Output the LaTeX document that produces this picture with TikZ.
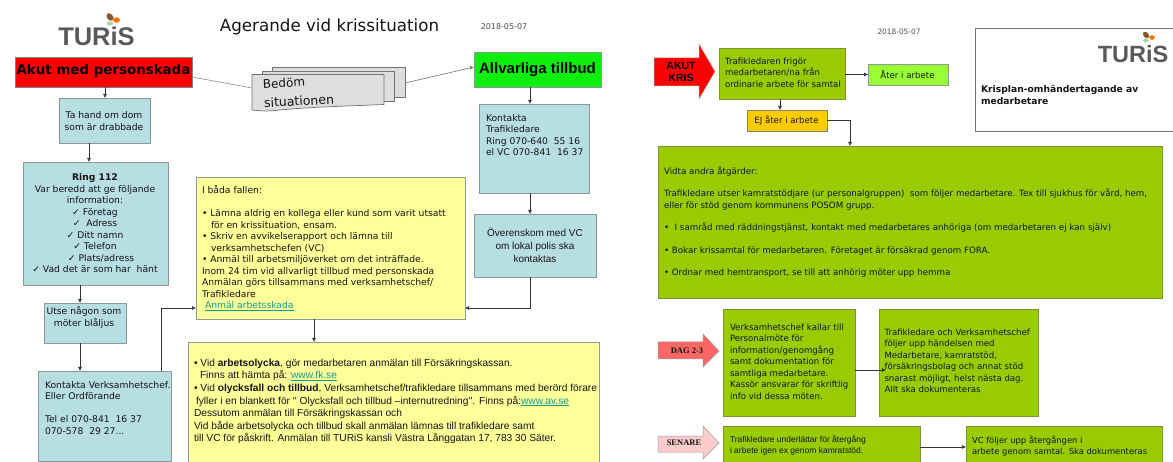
\documentclass[tikz,border=0pt]{standalone}
\usepackage{fontspec}
\setmainfont{DejaVu Sans}
\newfontfamily\arialf{Liberation Sans}
\newfontfamily\timesf{Liberation Serif}
\usetikzlibrary{arrows.meta}
\definecolor{blueb}{HTML}{B7DEE3}
\definecolor{yel}{HTML}{FFFF99}
\definecolor{grn}{HTML}{99CC00}
\definecolor{edgeb}{HTML}{8A9A9C}
\definecolor{edgeg}{HTML}{7E9434}
\definecolor{logog}{HTML}{58595B}
\definecolor{linkc}{HTML}{0A9C96}
\definecolor{txt}{HTML}{141414}
\definecolor{aterc}{HTML}{99FF33}
\definecolor{ejc}{HTML}{FFCC00}
\definecolor{allvc}{HTML}{0CEE0C}
\newcommand{\bx}[6]{%
  \pgfmathsetmacro\bw{#4-#2}\pgfmathsetmacro\bh{#5-#3}%
  \pgfmathsetmacro\cx{(#4+#2)/2}\pgfmathsetmacro\cy{(#5+#3)/2}%
  \node[#6,minimum width=\bw pt,minimum height=\bh pt] (#1) at (\cx,\cy) {};}
\newcommand{\lnk}[1]{\textcolor{linkc}{\underline{#1}}}
\tikzset{
  x=1pt,y=-1pt,
  boxbase/.style={draw,inner sep=0pt,outer sep=0pt,line width=.8pt},
  bluebox/.style={boxbase,fill=blueb,draw=edgeb},
  yelbox/.style={boxbase,fill=yel,draw=edgeb},
  grnbox/.style={boxbase,fill=grn,draw=edgeg},
  conn/.style={draw=black!80,line width=.55pt,-{Latex[length=4pt,width=4pt]}},
  plain/.style={draw=black!80,line width=.55pt},
  ttxt/.style={inner sep=0pt,outer sep=0pt,text=txt},
  lft/.style={ttxt,anchor=north west,align=left},
  ctr/.style={ttxt,align=center},
  vsm/.style={font=\fontsize{9.2}{11.5}\selectfont},
  vsr/.style={font=\fontsize{8.6}{11.5}\selectfont},
  stackbox/.style={draw=black!55,fill=black!13,line width=.7pt},
  logotxt/.style={ttxt,text=logog,font=\arialf\bfseries\fontsize{25.5}{26}\selectfont},
  logotxs/.style={ttxt,text=logog,font=\arialf\bfseries\fontsize{23.5}{24}\selectfont},
}
\begin{document}
\begin{tikzpicture}
\useasboundingbox (0,0) rectangle (1173,462);
% ---------- left logo and title
\node[logotxt] (logoL) at (96.5,36) {TURiS};
\fill[brown!70!black,rotate around={40:(110,17)}] (110,17) ellipse (3 and 4.2);
\fill[orange!90!red] (116.5,20) ellipse (3.4 and 2.8);
\fill[green!30!gray!50] (110,23.5) ellipse (3.4 and 2);
\node[ttxt,font=\fontsize{16.7}{18}\selectfont] (title) at (329.5,27) {Agerande vid krissituation};
\node[ttxt,font=\fontsize{8}{8}\selectfont,text=black!70] (dateL) at (504,27) {2018-05-07};
% ---------- left boxes
\bx{akut}{15}{57}{192}{87}{boxbase,fill=red,draw=black!50}
\node[ttxt,text=black,font=\bfseries\fontsize{13.4}{14}\selectfont] (akutT) at (103.5,71) {Akut med personskada};
\bx{ta}{59}{98}{150}{143}{bluebox}
\node[ctr,vsm] (taT) at (104,121) {Ta hand om dom\\som är drabbade};
\bx{ring}{23.5}{162}{168}{285}{bluebox}
\node[ctr,vsm] (ringT) at (95,223.5) {{\bfseries Ring 112}\\Var beredd att ge följande\\information:\\✓ Företag\\✓\ \ Adress\hspace*{18pt}\\✓ Ditt namn\hspace*{6pt}\\✓ Telefon\\\hspace*{12pt}✓ Plats/adress\\✓ Vad det är som har\ \ hänt};
\bx{utse}{44}{303}{126}{343}{bluebox}
\node[ctr,vsm] (utseT) at (84,317.5) {Utse någon som\\möter blåljus};
\bx{kvc}{38.5}{371}{171.5}{461}{bluebox}
\node[lft,vsm] (kvcT) at (45,381.5) {Kontakta Verksamhetschef.\\Eller Ordförande\\[11.5pt]Tel el 070-841\ \ 16 37\\070-578\ \ 29 27...};
% stack
\draw[stackbox] (272,67) rectangle (405,97);
\draw[stackbox] (262,71) rectangle (394,101);
\coordinate (stk) at (252,88);
\coordinate (stkb) at (405,83);
\draw[stackbox] (252,74.5) -- (384,74.5) -- (384,104.5) .. controls (350,106) and (310,107) .. (280,110) .. controls (268,111.5) and (260,111) .. (252,110) -- cycle;
\node[ttxt,rotate=3,font=\fontsize{12}{12}\selectfont] (bed) at (284,83) {Bedöm};
\node[ttxt,rotate=3,font=\fontsize{12.5}{12}\selectfont] (sit) at (299,101) {situationen};
\bx{allv}{474}{52}{601}{87}{boxbase,fill=allvc,draw=edgeb}
\node[ttxt,text=black,font=\arialf\bfseries\fontsize{15}{16}\selectfont] (allvT) at (537.5,70) {Allvarliga tillbud};
\bx{ktr}{479}{104}{589}{193}{bluebox}
\node[lft,vsm] (ktrT) at (486,114.5) {Kontakta\\Trafikledare\\Ring 070-640\ \ 55 16\\el VC 070-841\ \ 16 37};
\bx{over}{474}{214}{596}{277}{bluebox}
\node[ctr,font=\arialf\fontsize{10}{13}\selectfont] (overT) at (535,245) {Överenskom med VC\\om lokal polis ska\\kontaktas};
\bx{y1}{196}{177}{465}{319}{yelbox}
\node[lft,vsm] (y1T) at (202,185.5) {I båda fallen:\\[11.5pt]• Lämna aldrig en kollega eller kund som varit utsatt\\\hspace*{9pt}för en krissituation, ensam.\\• Skriv en avvikelserapport och lämna till\\\hspace*{9pt}verksamhetschefen (VC)\\• Anmäl till arbetsmiljöverket om det inträffade.\\Inom 24 tim vid allvarligt tillbud med personskada\\Anmälan görs tillsammans med verksamhetschef/\\Trafikledare\\\hspace*{3pt}\lnk{Anmäl arbetsskada}};
\bx{y2}{188}{342}{599}{470}{yelbox}
\node[lft,font=\arialf\fontsize{10.2}{12.6}\selectfont] (y2T) at (194,359) {• Vid \textbf{arbetsolycka}, gör medarbetaren anmälan till Försäkringskassan.\\\hspace*{6pt}Finns att hämta på: \lnk{www.fk.se}\\• Vid \textbf{olycksfall och tillbud}, Verksamhetschef/trafikledare tillsammans med berörd förare\\\hspace*{2pt}fyller i en blankett för '' Olycksfall och tillbud –internutredning''. Finns på:\lnk{www.av.se}\\Dessutom anmälan till Försäkringskassan och\\Vid både arbetsolycka och tillbud skall anmälan lämnas till trafikledare samt\\till VC för påskrift. Anmälan till TURiS kansli Västra Långgatan 17, 783 30 Säter.};
% left connectors
\draw[conn] (105,87) -- (105,98);
\draw[conn] (89,143) -- (89,162);
\draw[conn] (80,285) -- (80,303);
\draw[conn] (80,343) -- (80,371);
\draw[conn] (161,371) |- (y1.west |- 0,308);
\draw[conn] (530,277) |- (y1.east |- 0,308);
\draw[conn] (314,319) -- (314,342);
\draw[conn] (530,87) -- (530,104);
\draw[conn] (530,193) -- (530,214);
\draw[draw=black!40,line width=.7pt] (stk) -- (192,77);
\draw[conn,draw=black!50,line width=.7pt] (stkb) -- (474,67);
% ---------- right page
\node[ttxt,font=\fontsize{7.4}{8}\selectfont,text=black!70] (dateR) at (899,32) {2018-05-07};
\draw[draw=black!55,line width=.6pt,fill=white] (1175,28) -- (975.5,28) -- (975.5,131) -- (1175,131);
\node[logotxs] (logoR) at (1133,54.5) {TURiS};
\fill[brown!70!black,rotate around={40:(1146,35)}] (1146,35) ellipse (2.6 and 3.6);
\fill[orange!90!red] (1152,37.5) ellipse (2.8 and 2.4);
\fill[green!30!gray!50] (1146,40.5) ellipse (2.8 and 1.7);
\node[lft,font=\bfseries\fontsize{9.2}{12}\selectfont] (krisT) at (981,85) {Krisplan-omhändertagande av\\medarbetare};
% arrows with labels
\draw[fill=red,draw=black!35,line width=.5pt] (654,58) -- (699,58) -- (699,44) -- (715,71.5) -- (699,99) -- (699,86) -- (654,86) -- cycle;
\node[ctr,text=black,font=\arialf\bfseries\fontsize{10.5}{12}\selectfont] (akris) at (681,72) {AKUT\\KRIS};
\draw[fill=red!60,draw=black!40,line width=.5pt] (658,342) -- (703,342) -- (703,334) -- (719,351) -- (703,367) -- (703,359) -- (658,359) -- cycle;
\node[ttxt,font=\timesf\bfseries\fontsize{8.5}{10}\selectfont] (dag) at (687,351) {DAG 2-3};
\draw[fill=red!20,draw=black!40,line width=.5pt] (658,436) -- (703,436) -- (703,426) -- (719,443) -- (703,459) -- (703,452) -- (658,452) -- cycle;
\node[ttxt,font=\timesf\bfseries\fontsize{8.5}{10}\selectfont] (sen) at (684,443) {SENARE};
\bx{frig}{719}{48}{845}{99}{grnbox}
\node[lft,vsr] (frigT) at (725,57.5) {Trafikledaren frigör\\medarbetaren/na från\\ordinarie arbete för samtal};
\bx{ater}{868}{64}{948}{85}{boxbase,fill=aterc,draw=edgeb}
\node[ttxt,vsr] (aterT) at (907.5,74.5) {Åter i arbete};
\bx{ej}{747}{110}{827}{131}{boxbase,fill=ejc,draw=black!50}
\node[ttxt,vsr] (ejT) at (786.5,121) {EJ åter i arbete};
\bx{big}{658}{146}{1162}{298}{grnbox}
\node[lft,font=\fontsize{8.7}{11.5}\selectfont] (bigT) at (664,166.5) {Vidta andra åtgärder:\\[11pt]Trafikledare utser kamratstödjare (ur personalgruppen)\ \ som följer medarbetare. Tex till sjukhus för vård, hem,\\eller för stöd genom kommunens POSOM grupp.\\[11pt]•\ \ I samråd med räddningstjänst, kontakt med medarbetares anhöriga (om medarbetaren ej kan själv)\\[11pt]• Bokar krissamtal för medarbetaren. Företaget är försäkrad genom FORA.\\[11pt]• Ordnar med hemtransport, se till att anhörig möter upp hemma};
\bx{bA}{723}{309}{855}{416}{grnbox}
\node[lft,vsr] (bAT) at (730,323.5) {Verksamhetschef kallar till\\Personalmöte för\\information/genomgång\\samt dokumentation för\\samtliga medarbetare.\\Kassör ansvarar för skriftlig\\info vid dessa möten.};
\bx{bB}{879}{309}{1038}{416}{grnbox}
\node[lft,vsr] (bBT) at (884.5,328.5) {Trafikledare och Verksamhetschef\\följer upp händelsen med\\Medarbetare, kamratstöd,\\försäkringsbolag och annat stöd\\snarast möjligt, helst nästa dag.\\Allt ska dokumenteras};
\bx{bC}{723}{426}{920}{470}{grnbox}
\node[lft,font=\arialf\fontsize{8.5}{11.5}\selectfont] (bCT) at (730,435.5) {Trafikledare underlättar för återgång\\i arbete igen ex genom kamratstöd.};
\bx{bD}{966}{426}{1162}{470}{grnbox}
\node[lft,font=\fontsize{8.4}{11}\selectfont] (bDT) at (972,436.5) {VC följer upp återgången i\\arbete genom samtal. Ska dokumenteras};
% right connectors
\draw[conn] (frig.east |- ater.west) -- (ater.west);
\draw[conn] (780,99) -- (780,110);
\draw[conn] (ej.east) -| (850,146);
\coordinate (bBin) at (886,370);
\draw[conn] (bA.east |- bBin) -- (bBin);
\draw[conn] (920,447) -- (966,447);
\end{tikzpicture}
\end{document}
